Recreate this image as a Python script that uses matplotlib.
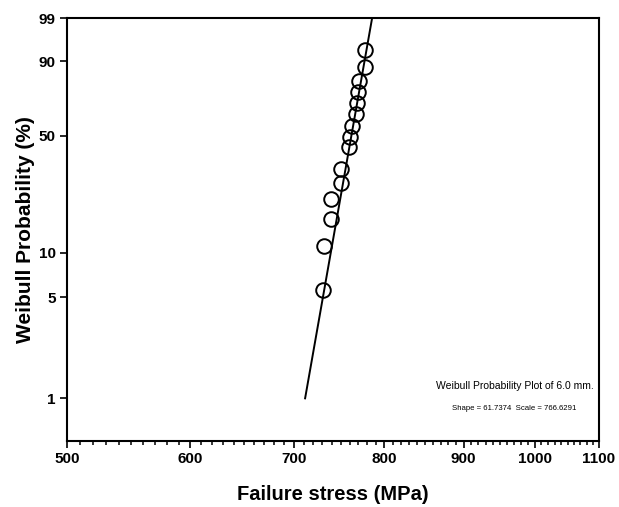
import numpy as np
import matplotlib
matplotlib.use("Agg")
import matplotlib.pyplot as plt
from matplotlib.ticker import FixedLocator, NullFormatter, FixedFormatter

plt.rcParams['font.family'] = ['Liberation Sans', 'DejaVu Sans']

# failure data
stress = [731.0, 731.5, 739.9, 739.9, 750.9, 750.9, 759.5, 761.0, 763.3,
          767.8, 768.5, 770.1, 770.8, 777.3, 777.3]
prob = [5.6, 11.0, 16.6, 22.0, 27.7, 33.2, 43.9, 49.5, 55.7,
        62.4, 68.9, 75.3, 81.4, 87.6, 93.8]

# fitted Weibull parameters (from the annotation)
shape = 61.7374
scale = 766.6291
line_prob = [1, 99]

x_ticks = [500, 600, 700, 800, 900, 1000, 1100]
y_ticks = [1, 5, 10, 50, 90, 99]


def fwd(p):
    p = np.clip(np.asarray(p, dtype=float), 1e-6, 99.99999)
    return np.log(-np.log(1 - p / 100.0))


def inv(w):
    w = np.asarray(w, dtype=float)
    return 100.0 * (1 - np.exp(-np.exp(w)))


fig = plt.figure(figsize=(6.19, 5.07), dpi=100)
ax = fig.add_axes([67 / 619, 1 - 440.5 / 507, 532 / 619, 422.2 / 507])

ax.set_xscale('log')
ax.set_yscale('function', functions=(fwd, inv))

# fit line
lp = np.array(line_prob, dtype=float)
line_x = scale * (-np.log(1 - lp / 100)) ** (1 / shape)
ax.plot(line_x, lp, color='black', lw=1.4, zorder=2)

ax.plot(stress, prob, 'o', ms=10.5, mfc='none', mec='black', mew=1.4, zorder=3)

ax.set_xlim(500, 1100)
ax.set_ylim(0.508, 99)

ax.xaxis.set_major_locator(FixedLocator(x_ticks))
ax.xaxis.set_major_formatter(FixedFormatter([str(v) for v in x_ticks]))
minor = [v for v in range(510, 1100, 10) if v % 100 != 0]
ax.xaxis.set_minor_locator(FixedLocator(minor))
ax.xaxis.set_minor_formatter(NullFormatter())

ax.yaxis.set_major_locator(FixedLocator(y_ticks))
ax.yaxis.set_major_formatter(FixedFormatter([str(v) for v in y_ticks]))
ax.yaxis.set_minor_locator(FixedLocator([]))

for s in ax.spines.values():
    s.set_linewidth(1.5)

ax.tick_params(axis='both', which='major', direction='out', length=5, width=1.2,
               labelsize=11, pad=3)
ax.tick_params(axis='x', which='minor', direction='out', length=2.6, width=1.1)
for lab in ax.get_xticklabels() + ax.get_yticklabels():
    lab.set_fontweight('bold')

ax.set_xlabel('Failure stress (MPa)', fontsize=14.5, fontweight='bold', labelpad=14)
ax.set_ylabel('Weibull Probability (%)', fontsize=15, fontweight='bold', labelpad=3)

ax.text(0.841, 0.128, 'Weibull Probability Plot of 6.0 mm.', transform=ax.transAxes,
        ha='center', va='center', fontsize=7.5)
ax.text(0.841, 0.075, f'Shape = {shape:.4f}  Scale = {scale:.4f}', transform=ax.transAxes,
        ha='center', va='center', fontsize=5.6)

fig.savefig('out.png', dpi=100)
